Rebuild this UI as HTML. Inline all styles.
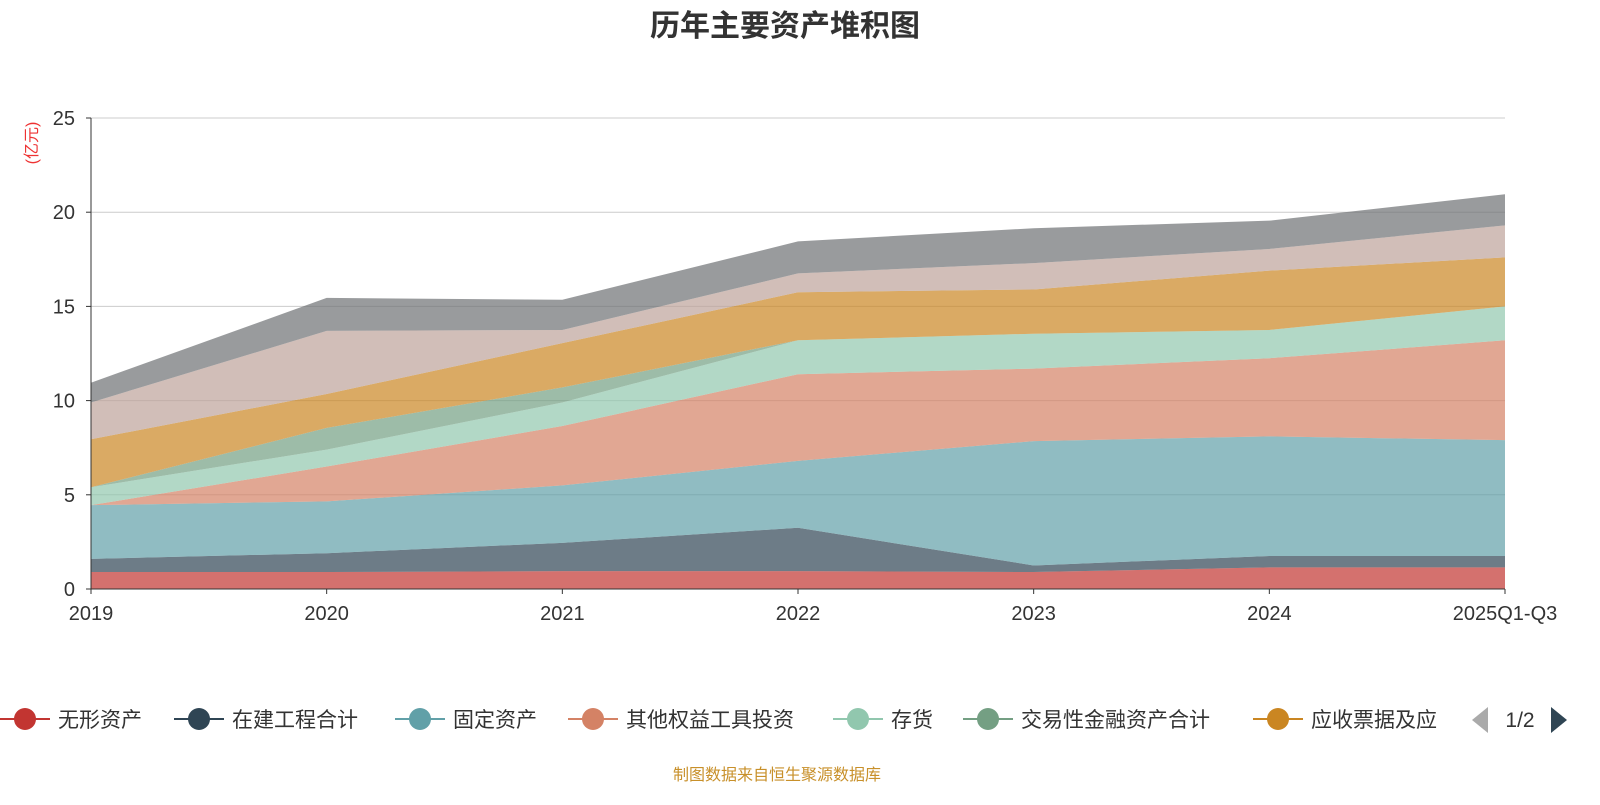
<!DOCTYPE html>
<html><head><meta charset="utf-8"><style>
body{margin:0;background:#fff;width:1600px;height:800px;overflow:hidden;font-family:"Liberation Sans","Noto Sans CJK SC",sans-serif}
</style></head><body>
<svg id="chart" width="1600" height="800" xmlns="http://www.w3.org/2000/svg" font-family="Liberation Sans, Noto Sans CJK SC, sans-serif">
<text x="785" y="36" text-anchor="middle" font-size="30" font-weight="bold" fill="#333">历年主要资产堆积图</text>
<text transform="translate(37,143) rotate(-90)" text-anchor="middle" font-size="16" fill="#e33">(亿元)</text>
<g id="grid"></g><g id="areas"></g><g id="axes"></g><g id="legend"></g>
<text x="777" y="780" text-anchor="middle" font-size="16" fill="#c8902a">制图数据来自恒生聚源数据库</text>
</svg>
<script>
const categories=["2019","2020","2021","2022","2023","2024","2025Q1-Q3"];
const seriesNames=["无形资产","在建工程合计","固定资产","其他权益工具投资","存货","交易性金融资产合计","应收票据及应","应收账款","货币资金"];
const s0=[0.9,0.9,0.95,0.95,0.9,1.15,1.15];
const s1=[0.7,1.0,1.5,2.3,0.35,0.6,0.6];
const s2=[2.85,2.75,3.05,3.55,6.6,6.35,6.15];
const s3=[0,1.85,3.15,4.6,3.85,4.15,5.3];
const s4=[0.95,0.9,1.25,1.8,1.85,1.5,1.8];
const s5=[0,1.15,0.8,0,0,0,0];
const s6=[2.55,1.8,2.35,2.55,2.35,3.15,2.6];
const s7=[1.95,3.35,0.7,1.0,1.4,1.15,1.7];
const s8=[1.05,1.75,1.6,1.7,1.85,1.5,1.65];
const seriesData=[s0,s1,s2,s3,s4,s5,s6,s7,s8];
const colors=["#c23531","#2f4554","#61a0a8","#d48265","#91c7ae","#749f83","#ca8622","#bda29a","#6e7074"];
const yTicks=[0,5,10,15,20,25];
const NS="http://www.w3.org/2000/svg";
const X0=91,X1=1505,Y0=589,Y1=118,YMAX=25;
const xs=i=>X0+(X1-X0)*i/(categories.length-1);
const ys=v=>Y0-(Y0-Y1)*v/YMAX;
function mk(t,a,p){const e=document.createElementNS(NS,t);for(const k in a)e.setAttribute(k,a[k]);p.appendChild(e);return e;}
const grid=document.getElementById('grid'),areas=document.getElementById('areas'),axes=document.getElementById('axes'),leg=document.getElementById('legend');
yTicks.forEach(v=>{
 if(v>0){const l=mk('line',{x1:X0,x2:X1,y1:ys(v),y2:ys(v),stroke:'#ccc'},grid);
 
 }
 const t=mk('text',{x:75,y:ys(v)+7,'text-anchor':'end','font-size':20,fill:'#333'},axes);t.textContent=v;
 
 
 mk('line',{x1:X0-5,x2:X0,y1:ys(v),y2:ys(v),stroke:'#333'},axes);
});
let base=categories.map(()=>0);
seriesData.forEach((s,k)=>{
 const top=base.map((b,i)=>b+s[i]);
 let d='M'+top.map((v,i)=>xs(i)+','+ys(v)).join('L');
 for(let i=categories.length-1;i>=0;i--)d+='L'+xs(i)+','+ys(base[i]);
 const p=mk('path',{d:d+'Z',fill:colors[k],'fill-opacity':0.7,stroke:'none'},areas);
 
 
 base=top;
});
mk('line',{x1:X0,x2:X0,y1:Y1,y2:Y0,stroke:'#333'},axes);
mk('line',{x1:X0,x2:X1,y1:Y0,y2:Y0,stroke:'#333'},axes);
categories.forEach((c,i)=>{
 mk('line',{x1:xs(i),x2:xs(i),y1:Y0,y2:Y0+5,stroke:'#333'},axes);
 const t=mk('text',{x:xs(i),y:620,'text-anchor':'middle','font-size':20,fill:'#333'},axes);t.textContent=c;
 
 
});
const legX=[0,174,395,568,833,963,1253];
for(let k=0;k<7;k++){
 const x=legX[k];
 const g=mk('g',{},leg);
 
 
 mk('line',{x1:x,x2:x+50,y1:719,y2:719,stroke:colors[k],'stroke-width':2},g);
 mk('circle',{cx:x+25,cy:719,r:11,fill:colors[k]},g);
 const t=mk('text',{x:x+58,y:727,'font-size':21,fill:'#333'},g);t.textContent=seriesNames[k];
}
const pl=mk('path',{d:'M1488,707L1472,720L1488,733Z',fill:'#aaa'},leg);


const pt=mk('text',{x:1520,y:727,'text-anchor':'middle','font-size':21,fill:'#333'},leg);pt.textContent='1/2';


const pn=mk('path',{d:'M1551,707L1567,720L1551,733Z',fill:'#2f4554'},leg);


</script>
</body></html>
